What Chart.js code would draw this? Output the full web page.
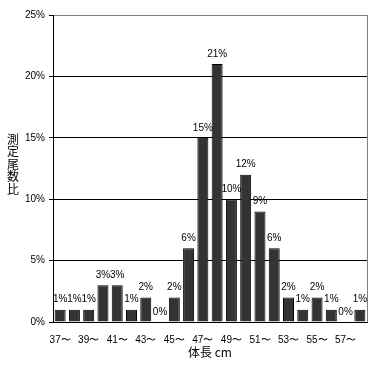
<!DOCTYPE html>
<html>
<head>
<meta charset="utf-8">
<script src="https://cdn.jsdelivr.net/npm/chart.js@4"></script>
<style>
  html, body { margin: 0; padding: 0; background: #fff; }
  #wrap { width: 382px; height: 367px; }
</style>
</head>
<body>
<div id="wrap"><canvas id="chart" width="382" height="367"></canvas></div>
<script>
// body length classes (cm) and share of fish (%)
const lengths = ['37〜','38〜','39〜','40〜','41〜','42〜','43〜','44〜','45〜','46〜','47〜',
                 '48〜','49〜','50〜','51〜','52〜','53〜','54〜','55〜','56〜','57〜','58〜'];
const shares = [1, 1, 1, 3, 3, 1, 2, 0, 2, 6, 15, 21, 10, 12, 9, 6, 2, 1, 2, 1, 0, 1];
const yTicks = [0, 5, 10, 15, 20, 25];
const xTitle = '体長 cm';
const yTitle = ['測', '定', '尾', '数', '比'];

const labelFont = '10px "Liberation Sans", Arial, sans-serif';
const jpFont = '12px "Noto Sans CJK JP", sans-serif';

// value labels above bars, axis titles, right frame line
const extras = {
    id: 'extras',
    afterDatasetsDraw(chart) {
        const ctx = chart.ctx;
        const area = chart.chartArea;
        ctx.save();
        ctx.strokeStyle = '#808080';
        ctx.lineWidth = 1;
        ctx.beginPath();
        ctx.moveTo(area.right + 0.5, area.top);
        ctx.lineTo(area.right + 0.5, area.bottom);
        ctx.stroke();

        ctx.fillStyle = '#000';
        ctx.font = labelFont;
        ctx.textAlign = 'center';
        ctx.textBaseline = 'bottom';
        chart.getDatasetMeta(0).data.forEach((bar, i) => {
            ctx.fillText(shares[i] + '%', bar.x, bar.y - 5);
        });

        ctx.font = jpFont;
        ctx.textBaseline = 'middle';
        ctx.fillText(xTitle, (area.left + area.right) / 2, 352);
        yTitle.forEach((ch, i) => {
            ctx.fillText(ch, 13, 139 + i * 12.6);
        });
        ctx.restore();
    }
};

new Chart(document.getElementById('chart'), {
    type: 'bar',
    data: {
        labels: lengths,
        datasets: [{
            data: shares,
            backgroundColor: '#333333',
            borderColor: '#000000',
            borderWidth: 1,
            barPercentage: 0.77,
            categoryPercentage: 1.0
        }]
    },
    options: {
        responsive: false,
        animation: false,
        layout: { padding: { left: 0, right: 15, top: 15, bottom: 0 } },
        plugins: {
            legend: { display: false },
            tooltip: { enabled: false }
        },
        scales: {
            x: {
                grid: { display: false },
                border: { display: true, color: '#000', width: 1 },
                ticks: {
                    autoSkip: false,
                    maxRotation: 0,
                    minRotation: 0,
                    padding: 4,
                    color: '#000',
                    font: { family: '"Liberation Sans", Arial, sans-serif', size: 10 },
                    callback: (v, i) => (i % 2 === 0 ? lengths[i] : '')
                },
                afterFit: (scale) => { scale.height = 45; }
            },
            y: {
                min: 0,
                max: 25,
                afterBuildTicks: (scale) => { scale.ticks = yTicks.map(v => ({ value: v })); },
                grid: {
                    color: (c) => (c.tick && c.tick.value === 25 ? '#808080' : '#000000'),
                    tickColor: '#000000',
                    tickLength: 4,
                    drawTicks: true
                },
                border: { display: true, color: '#000', width: 1 },
                ticks: {
                    padding: 4,
                    color: '#000',
                    font: { family: '"Liberation Sans", Arial, sans-serif', size: 10 },
                    callback: (v) => v + '%'
                },
                afterFit: (scale) => { scale.width = 53; }
            }
        }
    },
    plugins: [extras]
});
</script>
</body>
</html>
